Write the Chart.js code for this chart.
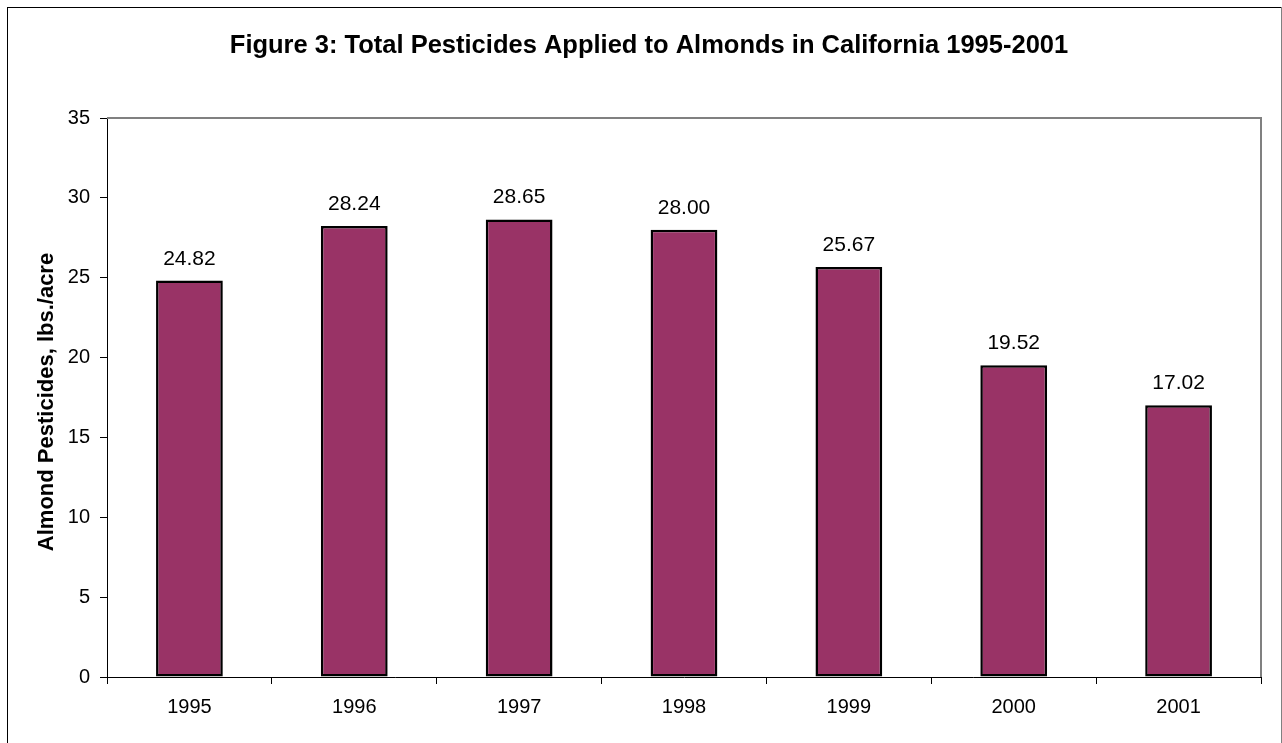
<!DOCTYPE html>
<html>
<head>
<meta charset="utf-8">
<title>Figure 3</title>
<script src="https://cdn.jsdelivr.net/npm/chart.js@4"></script>
<style>
  html, body { margin: 0; padding: 0; background: #fff; }
  #wrap { width: 1282px; height: 743px; }
</style>
</head>
<body>
<div id="wrap"><canvas id="barChart" width="1282" height="743"></canvas></div>
<script>
// data
var years = ["1995", "1996", "1997", "1998", "1999", "2000", "2001"];
var lbsPerAcre = [24.82, 28.24, 28.65, 28.00, 25.67, 19.52, 17.02];
var yTicks = [0, 5, 10, 15, 20, 25, 30, 35];

var titleText = 'Figure 3: Total Pesticides Applied to Almonds in California 1995-2001';
var yTitleText = 'Almond Pesticides, lbs./acre';

var FONT = 'Arial, "Liberation Sans", sans-serif';

// frame round the whole picture, titles, grey top/right of the plot area
var framePlugin = {
	id: 'frame',
	beforeDraw: function(chart) {
		var c = chart.ctx;
		c.save();
		c.fillStyle = '#fff';
		c.fillRect(0, 0, chart.width, chart.height);
		c.fillStyle = '#000';
		c.fillRect(7, 7, 1275, 1);
		c.fillRect(7, 7, 1, 736);
		c.fillStyle = '#808080';
		c.fillRect(1281, 7, 1, 736);

		// main title
		c.fillStyle = '#000';
		c.font = 'bold 25.5px ' + FONT;
		c.textAlign = 'center';
		c.textBaseline = 'alphabetic';
		c.fillText(titleText, 649, 53);

		// y axis title
		var a = chart.chartArea;
		c.translate(53, 402);
		c.rotate(-Math.PI / 2);
		c.font = 'bold 22px ' + FONT;
		c.fillText(yTitleText, 0, 0);
		c.restore();
	},
	afterDraw: function(chart) {
		var a = chart.chartArea;
		var c = chart.ctx;
		c.save();
		c.fillStyle = '#808080';
		c.fillRect(a.left, a.top - 1, a.right - a.left + 1, 2);
		c.fillRect(a.right - 1, a.top - 1, 2, a.bottom - a.top + 1);
		c.restore();
	}
};

// value labels above the bars
var valuePlugin = {
	id: 'values',
	afterDatasetsDraw: function(chart) {
		var c = chart.ctx;
		var meta = chart.getDatasetMeta(0);
		c.save();
		c.font = '21px ' + FONT;
		c.fillStyle = '#000';
		c.textAlign = 'center';
		c.textBaseline = 'alphabetic';
		meta.data.forEach(function(bar, i) {
			c.fillText(lbsPerAcre[i].toFixed(2), bar.x, bar.y - 16);
		});
		c.restore();
	}
};

var chartdata = {
	labels: years,
	datasets: [
		{
			label: 'Almond Pesticides',
			data: lbsPerAcre,
			backgroundColor: '#993366',
			borderColor: '#000',
			borderWidth: 2.5,
			borderSkipped: false,
			barPercentage: 0.405,
			categoryPercentage: 1.0
		}
	]
};

var ctx = document.getElementById('barChart');

var barGraph = new Chart(ctx, {
	type: 'bar',
	data: chartdata,
	plugins: [framePlugin, valuePlugin],
	options: {
		responsive: false,
		animation: false,
		layout: { padding: { left: 0, right: 21, top: 118, bottom: 0 } },
		plugins: {
			legend: { display: false },
			tooltip: { enabled: false },
			title: { display: false }
		},
		scales: {
			x: {
				offset: true,
				grid: { display: true, offset: true, drawOnChartArea: false, color: '#000', tickLength: 7 },
				border: { display: true, color: '#000', width: 1, z: 1 },
				ticks: { color: '#000', font: { family: FONT, size: 20 }, padding: 11, maxRotation: 0 },
				afterFit: function(scale) { scale.height = 66; }
			},
			y: {
				min: 0,
				max: 35,
				afterBuildTicks: function(scale) {
					scale.ticks = yTicks.map(function(v) { return { value: v }; });
				},
				grid: { display: true, drawOnChartArea: false, color: '#000', tickLength: 7 },
				border: { display: true, color: '#000', width: 1 },
				ticks: { color: '#000', font: { family: FONT, size: 20 }, padding: 10 },
				afterFit: function(scale) { scale.width = 107; }
			}
		}
	}
});
</script>
</body>
</html>
